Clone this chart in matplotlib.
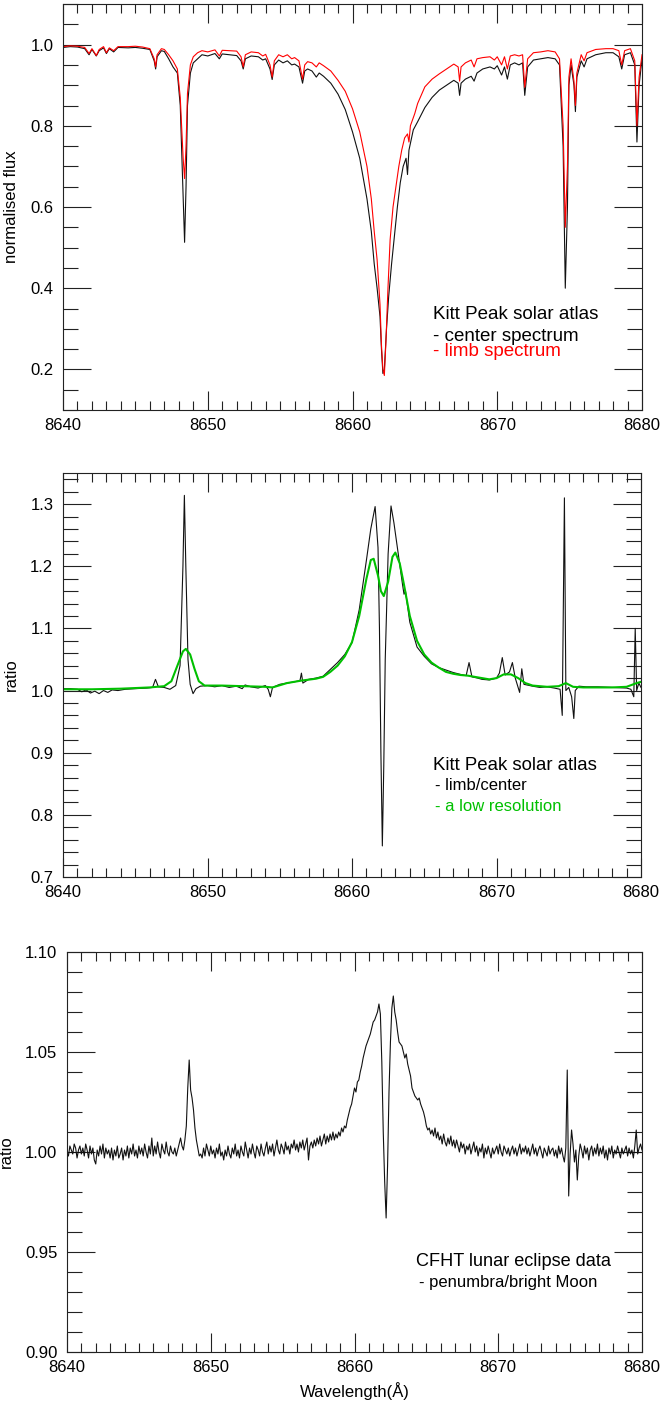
import numpy as np
import matplotlib
matplotlib.use("Agg")
import matplotlib.pyplot as plt
from matplotlib.ticker import MultipleLocator, FormatStrFormatter

plt.rcParams['font.family'] = ['Liberation Sans', 'DejaVu Sans']

# ---------------- Panel 1 : Kitt Peak centre / limb spectra ----------------
lam_center = [8640.0, 8640.5, 8641.0, 8641.5, 8641.8, 8642.0, 8642.3, 8642.5, 8642.8, 8643.0,
              8643.2, 8643.5, 8643.8, 8644.5, 8645.0, 8645.5, 8646.0, 8646.3, 8646.4, 8646.5,
              8646.8, 8647.0, 8647.3, 8647.6, 8647.9, 8648.1, 8648.3, 8648.4, 8648.5, 8648.6,
              8648.8, 8649.0, 8649.3, 8649.6, 8650.0, 8650.5, 8650.8, 8651.0, 8651.5, 8652.0,
              8652.3, 8652.45, 8652.6, 8653.0, 8653.5, 8653.8, 8654.0, 8654.3, 8654.45, 8654.6,
              8654.9, 8655.2, 8655.5, 8655.8, 8656.0, 8656.3, 8656.55, 8656.7, 8656.9, 8657.2,
              8657.5, 8657.7, 8658.0, 8658.5, 8659.0, 8659.5, 8660.0, 8660.5, 8661.0, 8661.3,
              8661.5, 8661.7, 8661.9, 8662.0, 8662.1, 8662.2, 8662.35, 8662.5, 8662.7, 8662.9,
              8663.1, 8663.3, 8663.5, 8663.7, 8663.8, 8663.9, 8664.2, 8664.5, 8665.0, 8665.5,
              8666.0, 8666.5, 8667.0, 8667.3, 8667.4, 8667.5, 8667.8, 8668.2, 8668.4, 8668.6,
              8669.0, 8669.5, 8669.8, 8670.0, 8670.3, 8670.5, 8670.7, 8670.9, 8671.2, 8671.5,
              8671.75, 8671.9, 8672.1, 8672.5, 8673.0, 8673.5, 8674.0, 8674.3, 8674.55, 8674.7,
              8674.85, 8674.95, 8675.1, 8675.3, 8675.4, 8675.5, 8675.8, 8676.0, 8676.2, 8676.8,
              8677.5, 8678.0, 8678.4, 8678.6, 8678.8, 8679.2, 8679.5, 8679.65, 8679.8, 8680.0]
flux_center = [0.993, 0.995, 0.994, 0.990, 0.975, 0.988, 0.972, 0.985, 0.992, 0.978,
               0.990, 0.982, 0.993, 0.992, 0.993, 0.991, 0.988, 0.960, 0.940, 0.970,
               0.985, 0.983, 0.965, 0.945, 0.930, 0.850, 0.620, 0.513, 0.650, 0.850,
               0.930, 0.955, 0.965, 0.975, 0.972, 0.978, 0.965, 0.977, 0.975, 0.973,
               0.960, 0.940, 0.965, 0.972, 0.970, 0.962, 0.965, 0.940, 0.914, 0.950,
               0.962, 0.955, 0.960, 0.950, 0.952, 0.945, 0.905, 0.935, 0.940, 0.935,
               0.920, 0.930, 0.922, 0.905, 0.878, 0.840, 0.785, 0.720, 0.620, 0.540,
               0.460, 0.400, 0.330, 0.250, 0.190, 0.200, 0.300, 0.380, 0.460, 0.530,
               0.600, 0.660, 0.700, 0.720, 0.680, 0.740, 0.790, 0.810, 0.845, 0.870,
               0.888, 0.900, 0.912, 0.905, 0.875, 0.905, 0.915, 0.922, 0.910, 0.930,
               0.940, 0.945, 0.940, 0.948, 0.925, 0.945, 0.915, 0.950, 0.955, 0.950,
               0.955, 0.875, 0.945, 0.962, 0.965, 0.968, 0.965, 0.950, 0.750, 0.400,
               0.600, 0.900, 0.950, 0.900, 0.835, 0.920, 0.960, 0.945, 0.965, 0.975,
               0.980, 0.980, 0.970, 0.940, 0.975, 0.980, 0.950, 0.760, 0.900, 0.965]

lam_limb = [8640.0, 8640.5, 8641.0, 8641.5, 8641.8, 8642.0, 8642.3, 8642.5, 8642.8, 8643.0,
            8643.2, 8643.5, 8643.8, 8644.5, 8645.0, 8645.5, 8646.0, 8646.3, 8646.4, 8646.5,
            8646.8, 8647.0, 8647.3, 8647.6, 8647.9, 8648.1, 8648.3, 8648.4, 8648.5, 8648.6,
            8648.8, 8649.0, 8649.3, 8649.6, 8650.0, 8650.5, 8650.8, 8651.0, 8651.5, 8652.0,
            8652.3, 8652.45, 8652.6, 8653.0, 8653.5, 8653.8, 8654.0, 8654.3, 8654.45, 8654.6,
            8654.9, 8655.2, 8655.5, 8655.8, 8656.0, 8656.3, 8656.55, 8656.7, 8656.9, 8657.2,
            8657.5, 8657.7, 8658.0, 8658.5, 8659.0, 8659.5, 8660.0, 8660.5, 8661.0, 8661.3,
            8661.5, 8661.7, 8661.9, 8662.0, 8662.1, 8662.2, 8662.3, 8662.45, 8662.6, 8662.8,
            8663.0, 8663.2, 8663.4, 8663.6, 8663.8, 8663.9, 8664.0, 8664.3, 8664.5, 8665.0,
            8665.5, 8666.0, 8666.5, 8667.0, 8667.3, 8667.4, 8667.5, 8667.8, 8668.2, 8668.4,
            8668.6, 8669.0, 8669.5, 8669.8, 8670.0, 8670.3, 8670.5, 8670.7, 8670.9, 8671.2,
            8671.5, 8671.75, 8671.9, 8672.1, 8672.5, 8673.0, 8673.5, 8674.0, 8674.3, 8674.55,
            8674.7, 8674.85, 8674.95, 8675.1, 8675.3, 8675.4, 8675.5, 8675.8, 8676.0, 8676.2,
            8676.8, 8677.5, 8678.0, 8678.4, 8678.6, 8678.8, 8679.2, 8679.5, 8679.65, 8679.8,
            8680.0]
flux_limb = [0.995, 0.997, 0.996, 0.993, 0.978, 0.990, 0.973, 0.988, 0.995, 0.980,
             0.992, 0.985, 0.995, 0.995, 0.996, 0.994, 0.990, 0.965, 0.945, 0.975,
             0.990, 0.988, 0.975, 0.960, 0.940, 0.870, 0.720, 0.670, 0.750, 0.880,
             0.950, 0.970, 0.980, 0.985, 0.982, 0.987, 0.972, 0.986, 0.985, 0.984,
             0.970, 0.945, 0.975, 0.982, 0.980, 0.972, 0.976, 0.950, 0.920, 0.960,
             0.975, 0.970, 0.975, 0.965, 0.968, 0.960, 0.915, 0.950, 0.958, 0.955,
             0.945, 0.955, 0.948, 0.935, 0.912, 0.885, 0.842, 0.785, 0.700, 0.620,
             0.540, 0.470, 0.360, 0.260, 0.200, 0.185, 0.260, 0.400, 0.520, 0.600,
             0.650, 0.700, 0.740, 0.770, 0.780, 0.760, 0.800, 0.830, 0.855, 0.896,
             0.915, 0.928, 0.940, 0.952, 0.945, 0.910, 0.945, 0.955, 0.962, 0.945,
             0.965, 0.968, 0.970, 0.962, 0.970, 0.950, 0.970, 0.940, 0.972, 0.975,
             0.972, 0.975, 0.895, 0.965, 0.980, 0.982, 0.985, 0.982, 0.965, 0.800,
             0.550, 0.700, 0.920, 0.965, 0.910, 0.850, 0.930, 0.975, 0.960, 0.980,
             0.988, 0.990, 0.990, 0.985, 0.950, 0.985, 0.990, 0.960, 0.800, 0.920,
             0.975]

# ---------------- Panel 2 : limb / centre ratio ----------------
lam_ratio = [8640.0, 8640.5, 8641.0, 8641.3, 8641.6, 8641.9, 8642.2, 8642.5, 8642.8, 8643.1,
             8643.4, 8643.8, 8644.3, 8645.0, 8645.8, 8646.2, 8646.4, 8646.6, 8647.0, 8647.4,
             8647.8, 8648.1, 8648.3, 8648.4, 8648.5, 8648.65, 8648.8, 8649.0, 8649.2, 8649.5,
             8650.0, 8650.5, 8651.0, 8651.5, 8652.0, 8652.4, 8652.6, 8653.0, 8653.5, 8654.0,
             8654.2, 8654.35, 8654.5, 8655.0, 8655.5, 8656.0, 8656.4, 8656.5, 8656.6, 8657.0,
             8657.5, 8658.0, 8658.5, 8659.0, 8659.5, 8660.0, 8660.5, 8661.0, 8661.3, 8661.6,
             8661.8, 8661.9, 8662.0, 8662.1, 8662.2, 8662.3, 8662.5, 8662.7, 8662.9, 8663.2,
             8663.5, 8663.6, 8663.7, 8664.0, 8664.5, 8665.0, 8665.5, 8666.0, 8666.5, 8667.0,
             8667.5, 8667.9, 8668.1, 8668.3, 8668.7, 8669.0, 8669.5, 8670.0, 8670.2, 8670.4,
             8670.6, 8670.9, 8671.1, 8671.3, 8671.6, 8671.75, 8671.9, 8672.5, 8673.0, 8673.5,
             8674.0, 8674.4, 8674.55, 8674.7, 8674.8, 8675.0, 8675.2, 8675.35, 8675.45, 8675.7,
             8676.2, 8677.0, 8678.0, 8679.0, 8679.3, 8679.5, 8679.6, 8679.7, 8679.85, 8680.0]
ratio_limb_center = [1.003, 1.003, 1.002, 0.998, 1.001, 0.996, 0.999, 0.995, 1.000, 0.997,
                     1.001, 1.000, 1.002, 1.003, 1.004, 1.005, 1.018, 1.006, 1.005, 1.002,
                     1.008, 1.040, 1.200, 1.314, 1.200, 1.050, 1.010, 0.995, 1.003, 1.007,
                     1.008, 1.006, 1.008, 1.005, 1.007, 1.003, 1.009, 1.006, 1.004, 1.008,
                     1.002, 0.990, 1.005, 1.010, 1.012, 1.014, 1.016, 1.028, 1.012, 1.018,
                     1.020, 1.023, 1.034, 1.045, 1.058, 1.077, 1.130, 1.210, 1.260, 1.296,
                     1.230, 1.100, 0.900, 0.750, 0.880, 1.050, 1.220, 1.297, 1.270, 1.220,
                     1.170, 1.155, 1.160, 1.110, 1.070, 1.055, 1.043, 1.037, 1.033, 1.029,
                     1.026, 1.024, 1.045, 1.022, 1.020, 1.018, 1.017, 1.020, 1.028, 1.053,
                     1.025, 1.030, 1.045, 1.020, 0.997, 1.035, 1.010, 1.007, 1.005, 1.006,
                     1.004, 1.002, 0.960, 1.310, 1.000, 1.005, 0.990, 0.955, 1.000, 1.007,
                     1.006, 1.006, 1.005, 1.004, 1.002, 0.990, 1.100, 1.000, 1.012, 1.005]

lam_lowres = [8640.0, 8642.0, 8644.0, 8646.0, 8647.0, 8647.5, 8648.0, 8648.3, 8648.5, 8648.8,
              8649.1, 8649.4, 8649.8, 8651.0, 8652.5, 8654.0, 8654.5, 8655.5, 8656.5, 8657.5,
              8658.0, 8658.5, 8659.0, 8659.5, 8660.0, 8660.5, 8661.0, 8661.3, 8661.5, 8661.8,
              8662.0, 8662.2, 8662.5, 8662.8, 8663.0, 8663.3, 8663.6, 8664.0, 8664.5, 8665.0,
              8665.5, 8666.0, 8666.5, 8667.0, 8667.5, 8668.0, 8668.5, 8669.0, 8669.5, 8670.0,
              8670.5, 8671.0, 8671.5, 8672.0, 8672.5, 8673.5, 8674.3, 8674.8, 8675.3, 8676.0,
              8678.0, 8679.0, 8679.7, 8680.0]
ratio_lowres = [1.002, 1.002, 1.003, 1.005, 1.007, 1.015, 1.045, 1.063, 1.067, 1.058,
                1.035, 1.015, 1.008, 1.008, 1.007, 1.006, 1.005, 1.012, 1.016, 1.019,
                1.022, 1.030, 1.040, 1.055, 1.078, 1.120, 1.180, 1.210, 1.212, 1.185,
                1.160, 1.152, 1.175, 1.215, 1.222, 1.205, 1.170, 1.120, 1.080, 1.058,
                1.045, 1.037, 1.030, 1.027, 1.025, 1.024, 1.022, 1.020, 1.018, 1.020,
                1.026, 1.026, 1.020, 1.012, 1.008, 1.006, 1.007, 1.012, 1.006, 1.005,
                1.005, 1.006, 1.012, 1.014]

# ---------------- Panel 3 : CFHT lunar eclipse ratio (0.1 A steps, 8640 -> 8680) ----------------
lam_cfht_start, lam_cfht_step = 8640.0, 0.1
ratio_cfht = [
    1.000, 0.998, 1.003, 1.001, 0.999, 1.004, 1.002, 0.997, 1.001, 1.003,
    0.999, 1.002, 0.998, 1.004, 1.001, 0.997, 1.003, 0.999, 1.002, 0.996,
    0.994, 1.001, 0.998, 1.003, 0.999, 1.004, 0.997, 1.002, 0.999, 1.001,
    0.997, 1.002, 0.996, 1.001, 0.998, 1.003, 0.997, 0.999, 1.002, 0.996,
    1.001, 0.998, 1.003, 0.997, 1.002, 0.999, 1.004, 0.998, 1.001, 0.997,
    1.003, 0.999, 1.002, 0.998, 1.004, 1.000, 0.997, 1.003, 0.999, 1.007,
    0.998, 1.003, 0.999, 1.005, 1.000, 0.997, 1.004, 1.001, 0.999, 1.005,
    1.000, 0.998, 1.003, 1.000, 0.999, 1.002, 0.998, 1.001, 1.004, 1.007,
    1.003, 1.001, 1.006, 1.013, 1.032, 1.046, 1.031, 1.027, 1.021, 1.012,
    1.006, 1.002, 0.998, 0.999, 0.997, 1.002, 0.998, 1.004, 1.001, 0.998,
    1.003, 0.999, 1.001, 0.997, 1.002, 0.999, 1.004, 0.998, 1.000, 0.996,
    1.001, 0.998, 1.003, 0.999, 0.997, 1.002, 0.999, 1.004, 0.998, 1.001,
    0.997, 1.003, 1.000, 0.998, 1.005, 1.001, 0.997, 1.002, 0.999, 1.004,
    1.000, 0.997, 1.003, 1.001, 0.998, 1.004, 1.000, 0.998, 1.002, 1.005,
    0.999, 1.003, 1.000, 1.004, 0.998, 1.002, 1.006, 1.001, 0.999, 1.004,
    1.002, 0.999, 1.005, 1.001, 1.003, 0.999, 1.004, 1.002, 1.006, 1.001,
    1.004, 1.000, 1.005, 1.002, 1.006, 1.001, 1.004, 1.007, 0.996, 1.003,
    1.005, 1.002, 1.006, 1.003, 1.007, 1.004, 1.008, 1.003, 1.006, 1.009,
    1.004, 1.008, 1.005, 1.009, 1.006, 1.010, 1.006, 1.009, 1.007, 1.010,
    1.008, 1.012, 1.010, 1.013, 1.012, 1.016, 1.019, 1.022, 1.024, 1.028,
    1.032, 1.030, 1.035, 1.036, 1.040, 1.043, 1.047, 1.050, 1.053, 1.055,
    1.057, 1.059, 1.062, 1.065, 1.066, 1.068, 1.070, 1.074, 1.069, 1.045,
    1.010, 0.985, 0.967, 0.993, 1.030, 1.055, 1.072, 1.078, 1.070, 1.066,
    1.060, 1.055, 1.054, 1.053, 1.050, 1.047, 1.049, 1.044, 1.041, 1.038,
    1.032, 1.030, 1.028, 1.027, 1.026, 1.027, 1.024, 1.022, 1.020, 1.017,
    1.013, 1.011, 1.012, 1.009, 1.011, 1.008, 1.012, 1.007, 1.010, 1.006,
    1.008, 1.004, 1.009, 1.005, 1.003, 1.007, 1.004, 1.008, 1.003, 1.006,
    1.002, 1.006, 1.003, 1.000, 1.005, 1.002, 1.004, 0.999, 1.003, 1.001,
    1.004, 0.999, 1.002, 1.005, 1.000, 1.003, 0.998, 1.002, 1.000, 1.004,
    0.997, 1.002, 0.999, 1.003, 1.000, 0.997, 1.002, 0.999, 1.001, 1.003,
    0.999, 1.004, 1.000, 0.998, 1.003, 1.001, 0.999, 1.002, 0.998, 1.001,
    1.003, 0.999, 1.002, 0.998, 1.001, 1.004, 0.999, 1.002, 1.000, 1.003,
    0.999, 1.002, 0.998, 1.001, 1.004, 0.999, 1.002, 0.998, 1.001, 1.003,
    1.000, 0.997, 1.002, 1.000, 0.998, 1.003, 0.999, 1.001, 1.002, 0.998,
    1.001, 0.997, 1.003, 0.999, 1.002, 0.998, 0.995, 1.002, 1.041, 0.978,
    0.999, 1.011, 1.004, 0.995, 1.001, 0.986, 0.998, 1.004, 1.001, 0.997,
    1.003, 0.999, 1.002, 0.996, 1.001, 1.003, 0.998, 1.002, 0.999, 1.004,
    0.998, 1.002, 0.999, 1.003, 0.997, 1.001, 0.996, 1.002, 0.999, 1.003,
    0.997, 1.001, 0.999, 1.003, 1.000, 0.997, 1.002, 0.999, 1.001, 1.003,
    0.998, 1.002, 0.999, 1.001, 0.997, 1.003, 1.011, 0.999, 1.002, 1.004,
    1.001]
cfht_ref_ranges = [(8640.0, 8641.2), (8678.0, 8680.0)]
cfht_ref_level = 1.0

x_ticks = [8640, 8650, 8660, 8670, 8680]

# ---------------- Figure ----------------
W, H = 661, 1403
fig = plt.figure(figsize=(W / 100, H / 100), dpi=100)


def px_axes(left, top, right, bottom):
    return fig.add_axes([left / W, 1 - bottom / H, (right - left) / W, (bottom - top) / H])


ax1 = px_axes(63, 4, 642, 410)
ax2 = px_axes(63, 473, 641, 877)
ax3 = px_axes(67, 952, 642, 1352)

ink = '#111111'
lw = 0.8

ax1.plot(lam_center, flux_center, color=ink, lw=lw)
ax1.plot(lam_limb, flux_limb, color='#ff0000', lw=lw)

ax2.plot(lam_ratio, ratio_limb_center, color=ink, lw=lw)
ax2.plot(lam_lowres, ratio_lowres, color='#00c000', lw=1.5)

lam_cfht = lam_cfht_start + lam_cfht_step * np.arange(len(ratio_cfht))
ax3.plot(lam_cfht, ratio_cfht, color=ink, lw=lw)
for a, b in cfht_ref_ranges:
    ax3.plot([a, b], [cfht_ref_level, cfht_ref_level], color=ink, lw=lw)

# axis limits / ticks
ylims = [(0.1, 1.1), (0.7, 1.35), (0.9, 1.1)]
ymaj = [0.2, 0.1, 0.05]
ymin = [0.05, 0.02, 0.01]
yfmt = ['%.1f', '%.1f', '%.2f']
for ax, yl, ma, mi, fm in zip([ax1, ax2, ax3], ylims, ymaj, ymin, yfmt):
    ax.set_xlim(8640, 8680)
    ax.set_ylim(*yl)
    ax.set_xticks(x_ticks)
    ax.xaxis.set_minor_locator(MultipleLocator(1))
    ax.yaxis.set_major_locator(MultipleLocator(ma))
    ax.yaxis.set_minor_locator(MultipleLocator(mi))
    ax.yaxis.set_major_formatter(FormatStrFormatter(fm))
    ax.tick_params(which='both', direction='in', top=True, right=True,
                   width=0.8, color='#222222', labelsize=12)
    ax.tick_params(axis='x', which='major', length=14, pad=6)
    ax.tick_params(axis='x', which='minor', length=6.5)
    ax.tick_params(axis='y', which='major', length=20, pad=7)
    ax.tick_params(axis='y', which='minor', length=10.5)
    for s in ax.spines.values():
        s.set_linewidth(0.8)
        s.set_color('#222222')

ax1.set_ylabel('normalised flux', fontsize=12)
ax1.yaxis.set_label_coords(-0.076, 0.5)
ax2.set_ylabel('ratio', fontsize=12)
ax2.yaxis.set_label_coords(-0.076, 0.5)
ax3.set_ylabel('ratio', fontsize=12)
ax3.yaxis.set_label_coords(-0.093, 0.5)
ax3.set_xlabel('Wavelength(Å)', fontsize=12)
ax3.xaxis.set_label_coords(0.5, -0.075)

# annotations
ax1.text(0.6385, 0.234, 'Kitt Peak solar atlas', transform=ax1.transAxes, fontsize=13.5,
         va='center', ha='left', color='black')
ax1.text(0.6385, 0.1805, '- center spectrum', transform=ax1.transAxes, fontsize=13.5,
         va='center', ha='left', color='black')
ax1.text(0.6385, 0.1453, '- limb spectrum', transform=ax1.transAxes, fontsize=13.5,
         va='center', ha='left', color='#ff0000')

ax2.text(0.6396, 0.277, 'Kitt Peak solar atlas', transform=ax2.transAxes, fontsize=13.4,
         va='center', ha='left', color='black')
ax2.text(0.6436, 0.2277, '- limb/center', transform=ax2.transAxes, fontsize=12,
         va='center', ha='left', color='black')
ax2.text(0.6436, 0.174, '- a low resolution', transform=ax2.transAxes, fontsize=12,
         va='center', ha='left', color='#00c000')

ax3.text(0.607, 0.2258, 'CFHT lunar eclipse data', transform=ax3.transAxes, fontsize=13.1,
         va='center', ha='left', color='black')
ax3.text(0.612, 0.173, '- penumbra/bright Moon', transform=ax3.transAxes, fontsize=12,
         va='center', ha='left', color='black')

fig.savefig('out.png', dpi=100)
